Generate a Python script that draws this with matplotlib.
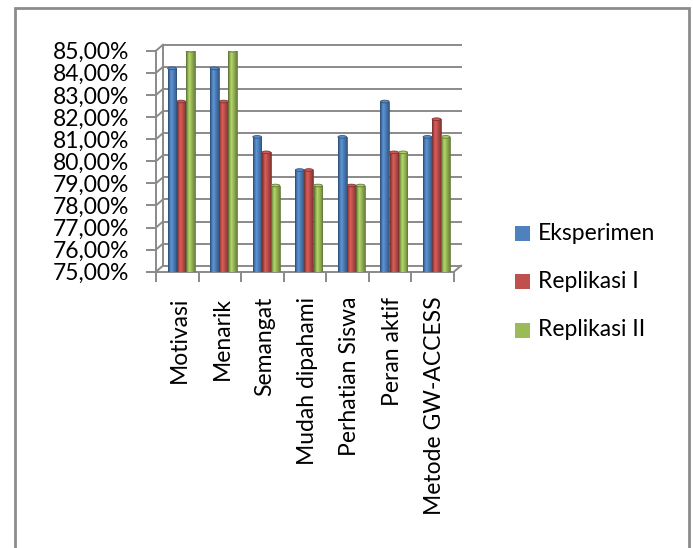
import numpy as np
import matplotlib
matplotlib.use("Agg")
import matplotlib.pyplot as plt
from matplotlib.patches import Rectangle, Ellipse
from matplotlib.transforms import ScaledTranslation
from matplotlib.colors import to_rgb

plt.rcParams['font.family'] = ['Lato', 'DejaVu Sans']

categories = ["Motivasi", "Menarik", "Semangat", "Mudah dipahami",
              "Perhatian Siswa", "Peran aktif", "Metode GW-ACCESS"]
series = ["Eksperimen", "Replikasi I", "Replikasi II"]
eksperimen = [84.2, 84.2, 81.1, 79.6, 81.1, 82.7, 81.1]
replikasi1 = [82.7, 82.7, 80.4, 79.6, 78.9, 80.4, 81.9]
replikasi2 = [85.0, 85.0, 78.9, 78.9, 78.9, 80.4, 81.1]
colors = ["#4F81BD", "#C0504D", "#9BBB59"]
yticks = np.arange(75, 86, 1)

W, H = 693, 548
fs = 16.5
fig = plt.figure(figsize=(W / 100, H / 100), dpi=100)
ax = fig.add_axes([156 / W, (H - 271.7) / H, 298 / W, 221 / H])
ax.set_xlim(-0.5, 6.5)
ax.set_ylim(75, 85)
ax.set_facecolor("none")

grid_c = "#8a8a8a"
back = ax.transData + ScaledTranslation(7 / 100, 6 / 100, fig.dpi_scale_trans)

# back wall gridlines and the little diagonals joining them to the front axis
for y in yticks:
    ax.plot([-0.5, 6.5], [y, y], color=grid_c, lw=1.4, transform=back, clip_on=False, zorder=1)
    x0, y0 = ax.transData.transform((-0.5, y))
    x1, y1 = back.transform((-0.5, y))
    ax.plot([x0, x1], [y0, y1], color=grid_c, lw=1.4, transform=None, clip_on=False, zorder=1)
ax.plot([-0.5, -0.5], [75, 85], color=grid_c, lw=1.4, transform=back, clip_on=False, zorder=1)
# floor right edge
x0, y0 = ax.transData.transform((6.5, 75))
x1, y1 = back.transform((6.5, 75))
ax.plot([x0, x1], [y0, y1], color=grid_c, lw=1.4, transform=None, clip_on=False, zorder=1)

# cylinder-like columns
shade = np.concatenate([np.linspace(0.62, 1.15, 12), np.linspace(1.15, 0.7, 20)])
bw = 0.205
for j, vals in enumerate([eksperimen, replikasi1, replikasi2]):
    base = np.array(to_rgb(colors[j]))
    grad = np.clip(base[None, :] * shade[:, None], 0, 1)[None, :, :]
    edge = np.clip(base * 0.65, 0, 1)
    for i, v in enumerate(vals):
        x = i + (j - 1) * (bw + 0.01) + 0.09
        rect = Rectangle((x - bw / 2, 75), bw, v - 75, facecolor=colors[j],
                         edgecolor="none", zorder=3)
        ax.add_patch(rect)
        im = ax.imshow(grad, extent=(x - bw / 2, x + bw / 2, 75, v), aspect="auto",
                       zorder=3, interpolation="bilinear")
        im.set_clip_path(rect)
        ax.add_patch(Rectangle((x - bw / 2, 75), bw, v - 75, facecolor="none",
                               edgecolor=edge, lw=0.6, zorder=4))
        ax.add_patch(Ellipse((x, v), bw, 0.12, facecolor=np.clip(base * 1.1, 0, 1),
                             edgecolor=edge, lw=0.6, zorder=5))

ax.set_xlim(-0.5, 6.5)
ax.set_ylim(75, 85)

for s in ["top", "right"]:
    ax.spines[s].set_visible(False)
for s in ["left", "bottom"]:
    ax.spines[s].set_color(grid_c)
    ax.spines[s].set_linewidth(1.4)

ax.set_yticks(yticks)
ax.set_yticklabels([f"{v:.2f}%".replace(".", ",") for v in yticks], fontsize=fs)
ax.tick_params(axis="y", length=7, width=1.4, color=grid_c, pad=12)

ax.set_xticks(np.arange(-0.5, 7, 1))
ax.set_xticklabels([])
ax.set_xticks(np.arange(7) + 0.05, minor=True)
ax.set_xticklabels(categories, minor=True, rotation=90, fontsize=fs, va="top")
ax.tick_params(axis="x", which="major", length=7, width=1.4, color=grid_c)
ax.tick_params(axis="x", which="minor", length=0, pad=18)

# legend
for j, name in enumerate(series):
    yc = 233 + j * 48.5
    fig.patches.append(Rectangle((515 / W, (H - yc - 7.5) / H), 15 / W, 15 / H,
                                 facecolor=colors[j], edgecolor="none",
                                 transform=fig.transFigure))
    fig.text(538 / W, (H - yc) / H, name, fontsize=fs, va="center", ha="left")

# chart area border
fig.patches.append(Rectangle((15 / W, -0.05), 674 / W, 1.05 - 8 / H, facecolor="none",
                             edgecolor="#8c8c8c", lw=2, transform=fig.transFigure))

fig.savefig("out.png", dpi=100)
